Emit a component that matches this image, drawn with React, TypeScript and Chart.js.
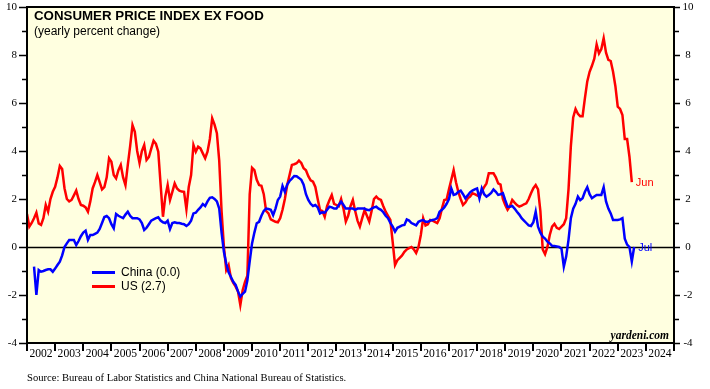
import React, { useEffect, useRef } from "react";
import { Chart, registerables } from "chart.js";

Chart.register(...registerables);

const TITLE = "CONSUMER PRICE INDEX EX FOOD";
const SUBTITLE = "(yearly percent change)";
const SOURCE = "Source: Bureau of Labor Statistics and China National Bureau of Statistics.";
const CREDIT = "yardeni.com";
const YEAR_LABELS = [2002, 2003, 2004, 2005, 2006, 2007, 2008, 2009, 2010, 2011, 2012, 2013, 2014, 2015, 2016, 2017, 2018, 2019, 2020, 2021, 2022, 2023, 2024];
const Y_MIN = -4;
const Y_MAX = 10;
const X_MIN = 2002;
const X_MAX = 2025;

const SERIES_NAMES = ["China (0.0)", "US (2.7)"];
const END_LABELS = ["Jul", "Jun"];

// monthly, first value = Dec 2001 (end-of-month positioning)
const US_START = 2002.0;
const usValues = [
  1.375, 0.85, 1.0, 1.2, 1.43, 0.98, 0.92, 1.2, 1.75, 1.47, 2.0, 2.3,
  2.51, 2.9, 3.375, 3.25, 2.45, 2.0, 1.9, 1.96, 2.15, 2.35, 2.0, 1.75,
  1.72, 1.65, 1.47, 1.9, 2.44, 2.7, 3.0, 2.7, 2.4, 2.5, 2.9, 3.7,
  3.55, 3.0, 2.86, 3.2, 3.42, 2.9, 2.58, 3.42, 4.2, 5.08, 4.8, 4.0,
  3.5, 4.0, 4.25, 3.625, 3.75, 4.1, 4.43, 4.3, 3.97, 2.6, 1.26, 2.1,
  2.58, 1.96, 2.3, 2.65, 2.44, 2.35, 2.31, 2.3, 1.57, 2.5, 3.0, 4.25,
  3.97, 4.18, 4.11, 3.9, 3.7, 3.97, 4.5, 5.36, 5.1, 4.74, 3.6, 1.5,
  0.0, -0.96, -0.75, -1.3, -1.5, -1.65, -1.85, -2.42, -1.8, -1.45, -1.2, 2.2,
  3.3, 3.2, 2.8, 2.58, 2.55, 2.2, 1.5, 1.4, 1.15, 1.1, 1.05, 1.03,
  1.2, 1.55, 2.0, 2.58, 3.0, 3.42, 3.45, 3.49, 3.6, 3.5, 3.28, 3.2,
  2.95, 2.78, 2.72, 2.5, 2.0, 1.54, 1.5, 1.26, 1.7, 1.95, 2.17, 1.8,
  1.75, 1.7, 2.0, 1.6, 1.06, 1.3, 1.7, 1.96, 1.5, 1.1, 0.85, 1.2,
  1.53, 1.3, 1.06, 1.5, 2.0, 2.1, 2.0, 1.96, 1.7, 1.47, 1.3, 1.125,
  0.2, -0.75, -0.55, -0.45, -0.35, -0.2, -0.1, -0.05, 0.0, -0.1, -0.25, 0.0,
  0.5, 1.2, 0.9, 0.95, 1.125, 1.1, 1.05, 1.0, 1.2, 1.6, 1.96, 1.98,
  2.4, 2.8, 3.2, 2.7, 2.3, 2.0, 1.75, 1.85, 2.03, 2.1, 2.24, 2.2,
  2.15, 2.1, 2.3, 2.5, 2.65, 3.07, 3.07, 3.07, 2.9, 2.65, 2.6, 2.0,
  1.75, 1.55, 1.7, 1.96, 1.85, 1.75, 1.68, 1.72, 1.78, 1.82, 2.0, 2.24,
  2.45, 2.58, 2.4, 1.5, -0.1, -0.3, 0.0, 0.5, 0.85, 0.96, 0.8, 0.75,
  0.85, 0.95, 1.2, 2.4, 4.2, 5.4, 5.75, 5.55, 5.45, 5.45, 6.2, 6.9,
  7.3, 7.55, 7.85, 8.44, 8.07, 8.25, 8.7, 8.1, 7.8, 7.75, 7.3, 6.7,
  5.85, 5.75, 5.5, 4.5, 4.5, 3.76, 2.7,
];

// monthly, first value = Mar 2002
const CHINA_START = 2002.25;
const chinaValues = [
  -0.82, -2.0, -0.96, -1.03, -1.0, -0.96, -0.93, -0.93, -1.03,
  -0.9, -0.75, -0.61, -0.35, 0.0, 0.15, 0.29, 0.29, 0.29, 0.08, 0.25, 0.45,
  0.6, 0.68, 0.3, 0.5, 0.5, 0.55, 0.6, 0.75, 1.0, 1.25, 1.29, 1.2,
  0.95, 0.78, 1.375, 1.3, 1.25, 1.2, 1.35, 1.47, 1.3, 1.2, 1.2, 1.2,
  1.15, 1.0, 0.71, 0.8, 0.95, 1.1, 1.15, 1.2, 1.24, 1.1, 1.03, 1.0,
  1.1, 0.75, 1.0, 1.03, 1.0, 1.0, 0.97, 0.95, 0.875, 0.95, 1.1, 1.4,
  1.43, 1.55, 1.65, 1.79, 1.71, 1.9, 2.05, 2.07, 2.0, 1.9, 1.6, 0.6,
  -0.2, -0.7, -1.05, -1.25, -1.45, -1.58, -1.85, -2.07, -1.95, -1.86, -1.4, -0.6,
  0.15, 0.6, 0.99, 1.05, 1.3, 1.5, 1.6, 1.58, 1.55, 1.33, 1.6, 1.96,
  2.1, 2.54, 2.3, 2.6, 2.75, 2.85, 2.96, 2.95, 2.88, 2.8, 2.6, 2.2,
  1.96, 1.8, 1.71, 1.75, 1.65, 1.4, 1.45, 1.43, 1.55, 1.68, 1.65, 1.6,
  1.6, 1.75, 1.89, 1.75, 1.6, 1.6, 1.6, 1.6, 1.55, 1.6, 1.6, 1.6,
  1.6, 1.55, 1.53, 1.6, 1.65, 1.68, 1.6, 1.55, 1.45, 1.3, 1.2, 1.0,
  0.85, 0.64, 0.8, 0.85, 0.9, 0.92, 1.15, 1.1, 1.0, 0.95, 0.9, 1.05,
  1.1, 1.125, 1.05, 1.05, 1.1, 1.125, 1.15, 1.2, 1.47, 1.55, 1.65, 1.8,
  2.0, 2.44, 2.17, 2.2, 2.3, 2.35, 2.2, 2.03, 2.15, 2.28, 2.35, 2.4,
  2.44, 2.03, 2.44, 2.2, 2.1, 2.17, 2.25, 2.4, 2.3, 2.17, 2.2, 2.24,
  1.95, 1.68, 1.68, 1.71, 1.6, 1.47, 1.35, 1.2, 1.1, 1.0, 0.9, 0.875,
  1.03, 1.47, 0.85, 0.6, 0.43, 0.35, 0.22, 0.15, 0.05, 0.04, 0.02, 0.0,
  -0.07, -0.82, -0.4, 0.3, 1.2, 1.6, 1.8, 2.1, 1.95, 2.03, 2.3, 2.49,
  2.2, 2.03, 2.1, 2.17, 2.17, 2.17, 2.49, 1.9, 1.6, 1.4, 1.125, 1.125,
  1.125, 1.15, 1.2, 0.35, 0.1, 0.0, -0.6, 0.0,
];

const COLORS = ["#0000ff", "#ff0000"];
const PLOT_BG = "#ffffe0";

function toPoints(start: number, values: number[]) {
  return values.map((v, i) => ({ x: start + i / 12, y: v }));
}

const decorPlugin = {
  id: "decor",
  beforeDraw(chart: any) {
    const { ctx, chartArea: a } = chart;
    ctx.save();
    ctx.fillStyle = PLOT_BG;
    ctx.fillRect(a.left, a.top, a.right - a.left, a.bottom - a.top);
    ctx.restore();
  },
  beforeDatasetsDraw(chart: any) {
    const { ctx, chartArea: a, scales } = chart;
    const y0 = Math.round(scales.y.getPixelForValue(0)) + 0.5;
    ctx.save();
    ctx.strokeStyle = "#000";
    ctx.lineWidth = 1.5;
    ctx.beginPath();
    ctx.moveTo(a.left, y0);
    ctx.lineTo(a.right, y0);
    ctx.stroke();
    ctx.restore();
  },
  afterDatasetsDraw(chart: any) {
    const { ctx, chartArea: a, scales } = chart;
    const xs = scales.x;
    const ys = scales.y;
    ctx.save();
    // frame
    ctx.strokeStyle = "#000";
    ctx.lineWidth = 2;
    ctx.strokeRect(a.left, a.top, a.right - a.left, a.bottom - a.top);

    // y ticks both sides
    ctx.lineWidth = 1.5;
    ctx.fillStyle = "#000";
    ctx.font = "11px 'Liberation Serif'";
    ctx.textBaseline = "middle";
    for (let v = Y_MIN; v <= Y_MAX; v++) {
      const y = Math.round(ys.getPixelForValue(v)) + 0.5;
      const major = v % 2 === 0;
      const len = major ? 8 : 5;
      ctx.beginPath();
      ctx.moveTo(a.left - len, y);
      ctx.lineTo(a.left, y);
      ctx.moveTo(a.right, y);
      ctx.lineTo(a.right + (major ? 6 : 5), y);
      ctx.stroke();
      if (major) {
        ctx.textAlign = "right";
        ctx.fillText(String(v), a.left - 10, y);
        ctx.textAlign = "center";
        ctx.fillText(String(v), a.right + 14, y);
      }
    }

    // x ticks and year labels
    ctx.lineWidth = 2;
    for (let yr = X_MIN; yr <= X_MAX; yr++) {
      const x = Math.round(xs.getPixelForValue(yr));
      ctx.beginPath();
      ctx.moveTo(x, a.bottom);
      ctx.lineTo(x, a.bottom + 8);
      ctx.stroke();
    }
    ctx.font = "11.6px 'Liberation Serif'";
    ctx.textAlign = "center";
    ctx.textBaseline = "middle";
    YEAR_LABELS.forEach((yr) => {
      ctx.fillText(String(yr), xs.getPixelForValue(yr + 0.5), a.bottom + 10.5);
    });

    // title
    ctx.textAlign = "left";
    ctx.font = "bold 13.3px 'Liberation Sans'";
    ctx.fillText(TITLE, 34, 16.5);
    ctx.font = "12px 'Liberation Sans'";
    ctx.fillText(SUBTITLE, 34, 31.5);

    // legend
    const legendY = [272.5, 286.5];
    SERIES_NAMES.forEach((name, i) => {
      ctx.strokeStyle = COLORS[i];
      ctx.lineWidth = 3;
      ctx.beginPath();
      ctx.moveTo(92, legendY[i]);
      ctx.lineTo(115, legendY[i]);
      ctx.stroke();
      ctx.fillStyle = "#000";
      ctx.font = "12px 'Liberation Sans'";
      ctx.fillText(name, 121, legendY[i]);
    });

    // end labels
    chart.data.datasets.forEach((ds: any, i: number) => {
      const meta = chart.getDatasetMeta(i);
      const last = meta.data[meta.data.length - 1];
      ctx.fillStyle = COLORS[i];
      ctx.font = "11px 'Liberation Sans'";
      ctx.textAlign = "left";
      ctx.fillText(END_LABELS[i], last.x + 4, last.y + 1);
    });

    // credit
    ctx.fillStyle = "#000";
    ctx.font = "italic bold 11.5px 'Liberation Serif'";
    ctx.textAlign = "right";
    ctx.fillText(CREDIT, a.right - 5, a.bottom - 7);

    // source
    ctx.font = "10.6px 'Liberation Serif'";
    ctx.textAlign = "left";
    ctx.fillText(SOURCE, 27, 378);
    ctx.restore();
  },
};

export default function App() {
  const ref = useRef<HTMLCanvasElement | null>(null);
  useEffect(() => {
    if (!ref.current) return;
    const chart = new Chart(ref.current, {
      type: "line",
      data: {
        datasets: [
          {
            label: SERIES_NAMES[0],
            data: toPoints(CHINA_START, chinaValues),
            borderColor: COLORS[0],
            borderWidth: 2.5,
            pointRadius: 0,
            tension: 0,
            fill: false,
          },
          {
            label: SERIES_NAMES[1],
            data: toPoints(US_START, usValues),
            borderColor: COLORS[1],
            borderWidth: 2.5,
            pointRadius: 0,
            tension: 0,
            fill: false,
          },
        ],
      },
      options: {
        responsive: false,
        animation: false,
        devicePixelRatio: 1,
        events: [],
        layout: { padding: { left: 27, right: 36, top: 7, bottom: 46 } },
        plugins: { legend: { display: false }, tooltip: { enabled: false } },
        scales: {
          x: { type: "linear", min: X_MIN, max: X_MAX, display: false },
          y: { type: "linear", min: Y_MIN, max: Y_MAX, display: false },
        },
      },
      plugins: [decorPlugin],
    } as any);
    return () => chart.destroy();
  }, []);
  return (
    <div style={{ position: "absolute", left: 0, top: 0, width: 710, height: 389, background: "#fff" }}>
      <canvas ref={ref} width={710} height={389} style={{ display: "block" }} />
    </div>
  );
}
